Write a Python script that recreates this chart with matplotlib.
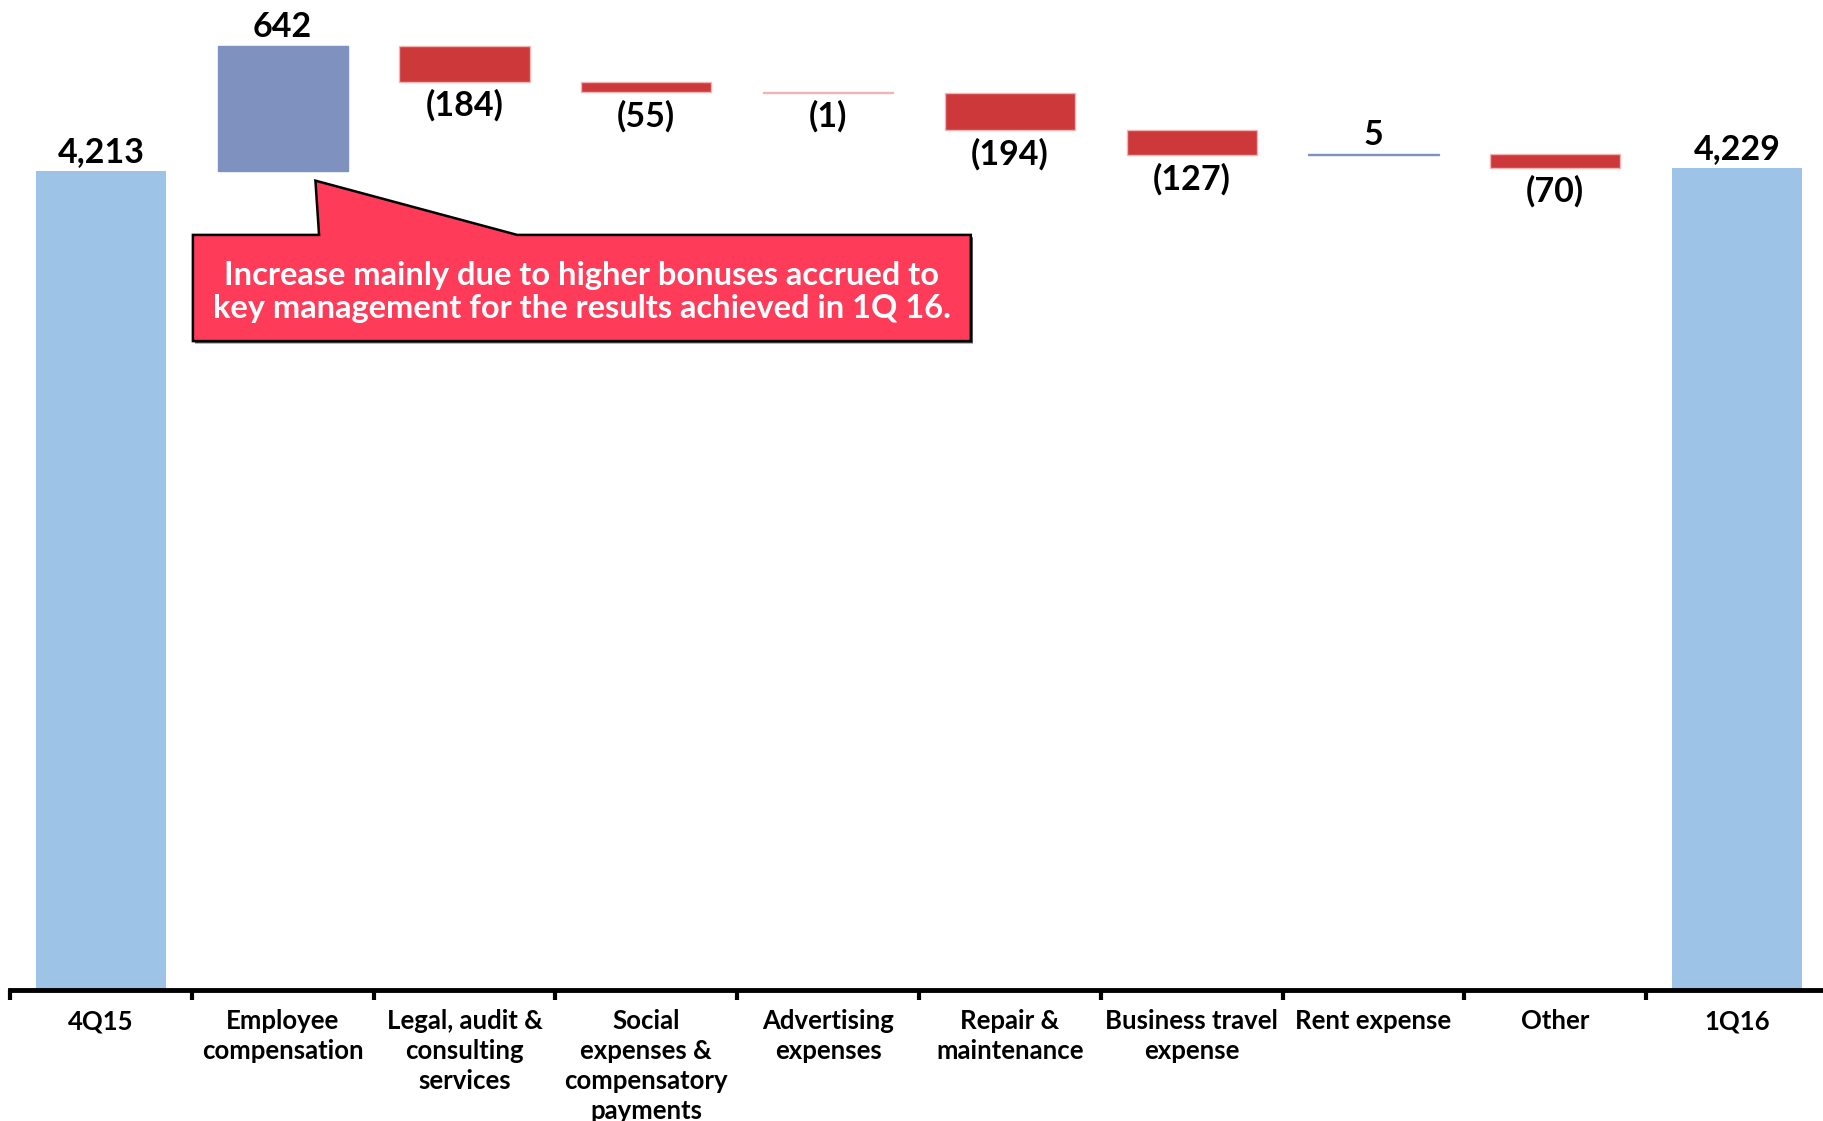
import matplotlib
matplotlib.use("Agg")
import matplotlib.pyplot as plt
import matplotlib.patches as mpatches
import numpy as np

plt.rcParams['font.family'] = ['Lato', 'DejaVu Sans']

# data
categories = ['4Q15', 'Employee\ncompensation', 'Legal, audit &\nconsulting\nservices',
              'Social\nexpenses &\ncompensatory\npayments', 'Advertising\nexpenses',
              'Repair &\nmaintenance', 'Business travel\nexpense', 'Rent expense',
              'Other', '1Q16']
start_total = 4213
changes = [642, -184, -55, -1, -194, -127, 5, -70]
end_total = 4229

total_color = '#9DC3E6'
up_color = '#7F92BF'
down_color = '#CD383B'

fig = plt.figure(figsize=(18.24, 11.21), dpi=100)
ax = fig.add_axes([10 / 1824, 1 - 990 / 1121, 1818 / 1824, 990 / 1121])

x = np.arange(len(categories))
w = 0.717
lab_kw = dict(fontsize=24.5, fontweight='bold')

# totals
ax.bar([0, len(categories) - 1], [start_total, end_total], width=w, color=total_color)
ax.text(0, start_total + 15, f'{start_total:,}', ha='center', va='bottom', **lab_kw)
ax.text(len(categories) - 1, end_total + 15, f'{end_total:,}', ha='center', va='bottom', **lab_kw)

# floating changes
level = start_total
for i, c in enumerate(changes, start=1):
    if c >= 0:
        ax.bar(i, c, bottom=level, width=w, color=up_color, edgecolor=up_color, linewidth=1)
        ax.text(i, level + c + 15, f'{c:,}', ha='center', va='bottom', clip_on=False, **lab_kw)
    else:
        ax.bar(i, c, bottom=level, width=w, color=down_color, edgecolor='#F0B4B4', linewidth=1)
        ax.text(i, level + c - 40, f'({-c:,})', ha='center', va='top', **lab_kw)
    level += c

ax.set_xlim(-0.5, len(categories) - 0.5)
ax.set_ylim(0, 5091)

for s in ['top', 'right', 'left']:
    ax.spines[s].set_visible(False)
ax.spines['bottom'].set_linewidth(3.5)
ax.set_yticks([])

ax.set_xticks(x)
ax.set_xticklabels(categories, fontsize=18.5, fontweight='bold', linespacing=1.3)
ax.tick_params(axis='x', which='major', length=0, pad=14)
ax.set_xticks(np.arange(-0.5, len(categories), 1), minor=True)
ax.tick_params(axis='x', which='minor', length=7, width=3, direction='out')

# call-out box pointing at the employee compensation bar
bx0, bx1, by0, by1 = 0.506, 4.785, 3337, 3883
tip = (1.18, 4162)
poly = [(bx0, by1), (1.2, by1), tip, (2.29, by1), (bx1, by1),
        (bx1, by0), (bx0, by0)]
shadow = mpatches.Polygon([(px + 0.012, py - 12) for px, py in poly], closed=True,
                          facecolor='#555555', edgecolor='none', zorder=4)
ax.add_patch(shadow)
ax.add_patch(mpatches.Polygon(poly, closed=True, facecolor='#FF3B5A',
                              edgecolor='black', linewidth=1.8, zorder=5))
ax.text((bx0 + bx1) / 2, (by0 + by1) / 2 - 20,
        'Increase mainly due to higher bonuses accrued to\n'
        'key management for the results achieved in 1Q 16.',
        ha='center', va='center', color='white', fontsize=23.5, fontweight='bold',
        linespacing=1.18, zorder=6)

fig.savefig('out.png', dpi=100)
